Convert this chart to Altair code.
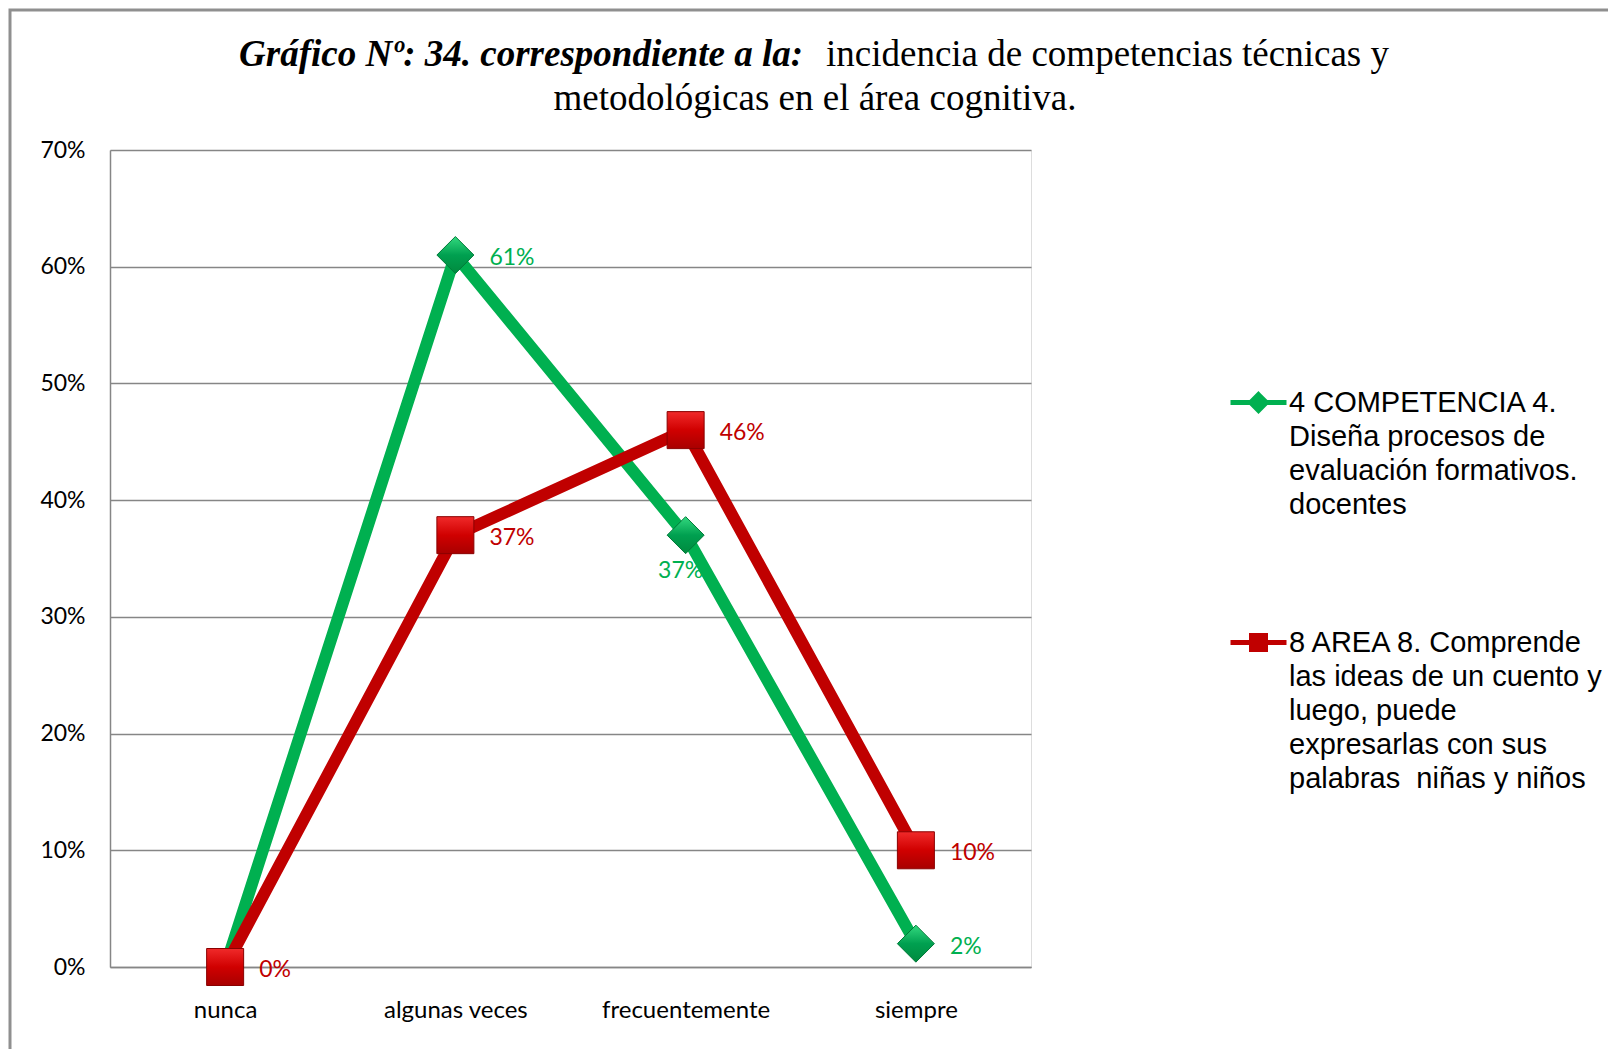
import altair as alt
import pandas as pd

# Response categories on the x axis
categories = ["nunca", "algunas veces", "frecuentemente", "siempre"]

# Percentages per series
competencia = [0.00, 0.61, 0.37, 0.02]
area = [0.00, 0.37, 0.46, 0.10]

series_keys = ["competencia", "area"]
series_colors = ["#00B050", "#C00000"]

# Legend text, one entry per line
legend_competencia = ["4 COMPETENCIA 4.", "Diseña procesos de", "evaluación formativos.", "docentes"]
legend_area = ["8 AREA 8. Comprende", "las ideas de un cuento y", "luego, puede",
               "expresarlas con sus", "palabras\u00a0 niñas y niños"]

title_bold = "Gráfico Nº: 34. correspondiente a la:"
title_rest = "incidencia de competencias técnicas y"
title_line2 = "metodológicas en el área cognitiva."

y_ticks = [0.0, 0.1, 0.2, 0.3, 0.4, 0.5, 0.6, 0.7]

rows = []
for key, vals in zip(series_keys, [competencia, area]):
    for c, v in zip(categories, vals):
        rows.append({"serie": key, "categoria": c, "valor": v})
df = pd.DataFrame(rows)

W, H = 921, 817
GREEN, RED = series_colors
GRID = "#868686"


def js_list(items):
    return "[" + ", ".join("'" + s + "'" for s in items) + "]"


label_expr = (
    "datum.value == 'competencia' ? " + js_list(legend_competencia) + " : " + js_list(legend_area)
)
# legend symbols: a short line with the series marker in the middle
diamond_path = "M-1,0H1M0,-0.28L0.28,0L0,0.28L-0.28,0Z"
square_path = "M-1,0H1M-0.25,-0.25H0.25V0.25H-0.25Z"

legend = alt.Legend(
    title=None, orient="none", legendX=1118, legendY=222, padding=0,
    labelExpr=label_expr, labelFont="Liberation Sans", labelFontSize=29,
    labelColor="black", labelLimit=420, labelOffset=0, rowPadding=92,
    symbolSize=3136, symbolStrokeWidth=5, symbolOpacity=1,
)

x_enc = alt.X(
    "categoria:N",
    sort=categories,
    axis=alt.Axis(
        title=None, labelAngle=0, ticks=False, grid=False,
        domainColor=GRID, domainWidth=1.5,
        labelFont="Lato", labelFontSize=24, labelColor="black", labelPadding=31,
    ),
)
y_enc = alt.Y(
    "valor:Q",
    scale=alt.Scale(domain=[0, 0.7], nice=False),
    axis=alt.Axis(
        title=None, format=".0%", values=y_ticks, ticks=False,
        domainColor=GRID, domainWidth=1.5, gridColor=GRID, gridWidth=1.5,
        labelFont="Lato", labelFontSize=23, labelColor="black", labelPadding=25,
    ),
)

base = alt.Chart(df)

# Invisible layer that only carries the legend
legend_layer = base.mark_point(filled=True, opacity=0, strokeWidth=5).encode(
    x=x_enc, y=y_enc,
    color=alt.Color("serie:N", scale=alt.Scale(domain=series_keys, range=series_colors), legend=legend),
    stroke=alt.Stroke("serie:N", scale=alt.Scale(domain=series_keys, range=series_colors), legend=legend),
    shape=alt.Shape("serie:N", scale=alt.Scale(domain=series_keys, range=[diamond_path, square_path]), legend=legend),
)

line_green = base.transform_filter(alt.datum.serie == "competencia").mark_line(
    strokeWidth=12, color=GREEN
).encode(x=x_enc, y=y_enc)
line_red = base.transform_filter(alt.datum.serie == "area").mark_line(
    strokeWidth=12, color=RED
).encode(x=x_enc, y=y_enc)

green_fill = alt.Gradient(
    gradient="linear", x1=0, x2=0, y1=0, y2=1,
    stops=[alt.GradientStop(color="#33D97F", offset=0), alt.GradientStop(color="#00A050", offset=0.5),
           alt.GradientStop(color="#008A3E", offset=1)],
)
red_fill = alt.Gradient(
    gradient="linear", x1=0, x2=0, y1=0, y2=1,
    stops=[alt.GradientStop(color="#F02A2A", offset=0), alt.GradientStop(color="#D00000", offset=0.5),
           alt.GradientStop(color="#A80000", offset=1)],
)

pts_green = base.transform_filter(alt.datum.serie == "competencia").mark_point(
    shape="diamond", size=1369, filled=True, fill=green_fill, stroke="#007A38", strokeWidth=1, opacity=1
).encode(x=x_enc, y=y_enc)
pts_red = base.transform_filter(alt.datum.serie == "area").mark_point(
    shape="square", size=1369, filled=True, fill=red_fill, stroke="#8A0000", strokeWidth=1, opacity=1
).encode(x=x_enc, y=y_enc)

label_text = alt.Text("valor:Q", format=".0%")
lab_green_right = base.transform_filter(
    (alt.datum.serie == "competencia") & (alt.datum.categoria != "frecuentemente") & (alt.datum.categoria != "nunca")
).mark_text(align="left", baseline="middle", dx=34, dy=3, font="Lato", fontSize=23, color=GREEN).encode(
    x=x_enc, y=y_enc, text=label_text)
lab_green_below = base.transform_filter(
    (alt.datum.serie == "competencia") & (alt.datum.categoria == "frecuentemente")
).mark_text(align="center", baseline="middle", dx=-5, dy=36, font="Lato", fontSize=23, color=GREEN).encode(
    x=x_enc, y=y_enc, text=label_text)
lab_red = base.transform_filter(alt.datum.serie == "area").mark_text(
    align="left", baseline="middle", dx=34, dy=3, font="Lato", fontSize=23, color=RED
).encode(x=x_enc, y=y_enc, text=label_text)

# Title: bold-italic lead followed by regular text, second line centred
t1 = alt.Chart(pd.DataFrame({"t": [title_bold]})).mark_text(
    align="right", baseline="alphabetic", font="Liberation Serif", fontSize=37,
    fontStyle="italic", fontWeight="bold", color="black"
).encode(text="t:N", x=alt.value(693), y=alt.value(-84))
t2 = alt.Chart(pd.DataFrame({"t": [title_rest]})).mark_text(
    align="left", baseline="alphabetic", font="Liberation Serif", fontSize=37, color="black"
).encode(text="t:N", x=alt.value(716), y=alt.value(-84))
t3 = alt.Chart(pd.DataFrame({"t": [title_line2]})).mark_text(
    align="center", baseline="alphabetic", font="Liberation Serif", fontSize=37, color="black"
).encode(text="t:N", x=alt.value(705), y=alt.value(-40))

# Outer chart frame
frame = alt.Chart(pd.DataFrame({"f": [1]})).mark_rect(
    filled=False, stroke="#8F8F8F", strokeWidth=3
).encode(x=alt.value(-100), x2=alt.value(1600), y=alt.value(-140), y2=alt.value(1000))

chart = alt.layer(
    frame, legend_layer, line_green, line_red, pts_green, pts_red,
    lab_green_right, lab_green_below, lab_red, t1, t2, t3,
).properties(
    width=W, height=H,
    autosize=alt.AutoSizeParams(type="none"),
    padding={"left": 110, "top": 150, "right": 577, "bottom": 82},
).configure_view(stroke=None).configure(
    background="white", style={"guide-label": {"lineHeight": 34}}
)

chart.save("out.html", embed_options={"renderer": "svg", "actions": False})
